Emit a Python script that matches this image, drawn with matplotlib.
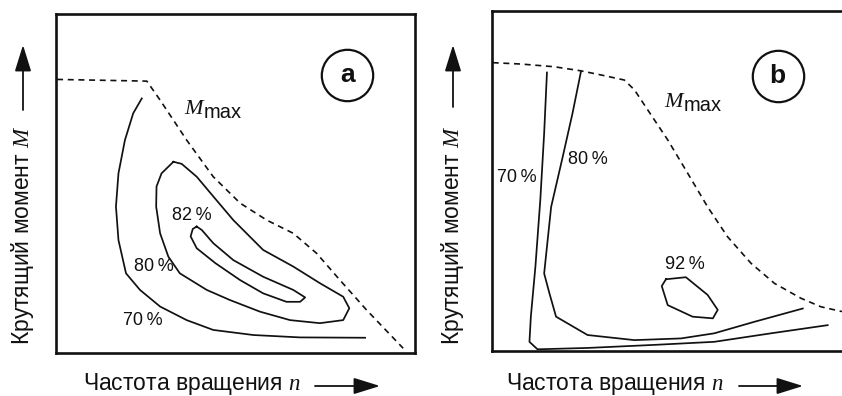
import matplotlib
matplotlib.use("Agg")
import matplotlib.pyplot as plt
from matplotlib.patches import FancyArrowPatch

plt.rcParams["font.family"] = ["Liberation Sans", "DejaVu Sans"]
plt.rcParams["mathtext.fontset"] = "custom"
plt.rcParams["mathtext.rm"] = "Liberation Sans"
plt.rcParams["mathtext.it"] = "Liberation Serif:italic"

INK = "#111111"

# ---- panel a: efficiency map (normalised n, M in 0..100) ----
a_mmax_n = [0.3, 25.3, 29.0, 36.4, 43.8, 51.3, 58.7, 66.1, 72.6, 79.1, 86.5, 96.7]
a_mmax_m = [80.7, 80.2, 74.6, 62.8, 52.0, 44.2, 39.2, 35.3, 29.4, 21.5, 12.7, 1.4]

a70_n = [23.9, 21.5, 19.2, 17.4, 16.7, 17.4, 19.5, 23.4, 29.0, 36.4, 43.8, 55.0, 68.0, 86.1]
a70_m = [75.1, 70.7, 62.8, 53.0, 43.2, 33.3, 23.5, 18.6, 13.7, 9.7, 6.8, 5.3, 4.6, 4.5]

a80_n = [32.7, 35.0, 39.2, 43.8, 49.4, 57.7, 66.1, 73.5, 80.0, 81.7, 80.0, 73.5,
         65.2, 56.8, 48.5, 42.0, 34.5, 31.3, 29.0, 27.9, 28.0, 29.4, 32.7]
a80_m = [56.4, 55.8, 52.0, 46.2, 39.2, 30.4, 25.5, 20.6, 16.6, 13.2, 9.7, 8.8,
         9.7, 12.2, 15.6, 18.6, 23.5, 28.4, 35.3, 43.2, 49.1, 53.0, 56.4]

a82_n = [39.2, 40.6, 43.8, 49.4, 57.7, 66.1, 69.4, 68.0, 64.2, 57.7, 51.3, 44.4,
         39.2, 37.5, 38.1, 39.2]
a82_m = [37.3, 36.3, 32.4, 27.4, 22.5, 18.6, 16.4, 15.1, 15.1, 17.6, 21.5, 26.5,
         30.9, 34.4, 36.6, 37.3]

a_labels = ["70\u2009%", "80\u2009%", "82\u2009%"]
a_label_n = [24.3, 27.3, 37.8]
a_label_m = [9.7, 25.5, 40.7]

# ---- panel b ----
b_mmax_n = [0.2, 8.3, 17.8, 25.4, 31.1, 37.8, 40.7, 44.5, 50.2, 55.9, 61.6, 67.3,
            74.0, 80.7, 88.3, 94.0, 100.0]
b_mmax_m = [84.8, 84.4, 83.6, 82.4, 81.2, 79.7, 76.8, 70.9, 62.1, 52.3, 42.4, 33.6,
            25.8, 19.9, 15.5, 13.0, 11.6]

b70_n = [15.7, 14.9, 13.8, 12.4, 11.1, 10.7, 13.0, 27.3, 46.4, 63.5, 79.7, 95.9]
b70_m = [81.9, 64.0, 44.4, 24.8, 10.1, 2.7, 0.5, 0.9, 1.8, 2.7, 5.2, 7.6]

b80_n = [25.4, 23.0, 20.2, 16.9, 14.9, 16.4, 18.3, 27.3, 40.7, 54.0, 63.5, 75.0, 88.8]
b80_m = [82.1, 69.9, 57.1, 42.4, 22.8, 17.0, 10.1, 4.7, 3.2, 3.7, 5.2, 8.6, 12.5]

b92_n = [49.7, 55.4, 61.6, 64.5, 63.1, 57.3, 50.2, 48.5, 49.7]
b92_m = [21.1, 21.7, 16.5, 12.1, 9.6, 10.1, 13.5, 19.1, 21.1]

b_labels = ["70\u2009%", "80\u2009%", "92\u2009%"]
b_label_n = [7.2, 27.5, 55.1]
b_label_m = [50.9, 56.2, 25.3]

x_caption = "Частота вращения $n$"
y_caption = "Крутящий момент $M$"

W, H = 842, 396
fig = plt.figure(figsize=(W / 100, H / 100), dpi=100)


def px_axes(left, top, right, bottom):
    return fig.add_axes([left / W, 1 - bottom / H, (right - left) / W, (bottom - top) / H])


def style(ax, right_spine=True):
    ax.set_xlim(0, 100)
    ax.set_ylim(0, 100)
    ax.set_xticks([])
    ax.set_yticks([])
    for sp in ax.spines.values():
        sp.set_linewidth(1.9)
        sp.set_color(INK)
    if not right_spine:
        ax.spines["right"].set_visible(False)


def m_max(ax, x, y):
    # italic M with an upright "max" subscript
    ax.text(x, y, "M", family="Liberation Serif", style="italic", fontsize=16,
            color=INK, ha="right", va="baseline")
    ax.annotate("max", (x, y), xytext=(0.5, -3), textcoords="offset points",
                fontsize=14.5, color=INK, ha="left", va="baseline")


line_kw = dict(color=INK, lw=1.25, solid_joinstyle="round")
dash_kw = dict(color=INK, lw=1.2, ls=(0, (3.6, 2.8)))
pct_kw = dict(fontsize=13, color=INK, ha="center", va="center")

# panel a
ax_a = px_axes(56, 14, 415, 353)
style(ax_a)
ax_a.plot(a_mmax_n, a_mmax_m, **dash_kw)
ax_a.plot(a70_n, a70_m, **line_kw)
ax_a.plot(a80_n, a80_m, **line_kw)
ax_a.plot(a82_n, a82_m, **line_kw)
for t, x, y in zip(a_labels, a_label_n, a_label_m):
    ax_a.text(x, y, t, **pct_kw)
m_max(ax_a, 40.9, 70.5)
ax_a.plot([81.1], [82.0], "o", ms=37, mfc="white", mec=INK, mew=1.6)
ax_a.text(81.1, 82.0, "a", fontsize=19, fontweight="bold", color=INK, ha="center", va="center")

# panel b
ax_b = px_axes(492, 11, 842, 351)
style(ax_b, right_spine=False)
ax_b.plot(b_mmax_n, b_mmax_m, clip_on=False, **dash_kw)
ax_b.plot(b70_n, b70_m, **line_kw)
ax_b.plot(b80_n, b80_m, **line_kw)
ax_b.plot(b92_n, b92_m, **line_kw)
for t, x, y in zip(b_labels, b_label_n, b_label_m):
    ax_b.text(x, y, t, **pct_kw)
m_max(ax_b, 54.6, 71.8)
ax_b.plot([81.6], [80.9], "o", ms=37, mfc="white", mec=INK, mew=1.6)
ax_b.text(81.6, 80.9, "b", fontsize=19, fontweight="bold", color=INK, ha="center", va="center")

# axis captions with arrows
arrow_kw = dict(arrowstyle="-|>,head_length=0.9,head_width=0.28", lw=1.3, color=INK,
                mutation_scale=18, shrinkA=0, shrinkB=0)

for x0, a_start, a_end in [(83, 315, 380), (506, 739, 803)]:
    fig.text(x0 / W, 6 / H, x_caption, fontsize=16.5, color=INK, ha="left", va="baseline")
    fig.add_artist(FancyArrowPatch((a_start / W, (H - 386) / H), (a_end / W, (H - 386) / H),
                                   transform=fig.transFigure, **arrow_kw))

for xc, y_from, y_to in [(23, 110, 45), (453, 107, 45)]:
    fig.text(xc / W, (H - 345) / H, y_caption, fontsize=16.5, color=INK,
             rotation=90, ha="center", va="bottom")
    fig.add_artist(FancyArrowPatch((xc / W, (H - y_from) / H), (xc / W, (H - y_to) / H),
                                   transform=fig.transFigure, **arrow_kw))

fig.savefig("out.png", dpi=100, facecolor="white")
